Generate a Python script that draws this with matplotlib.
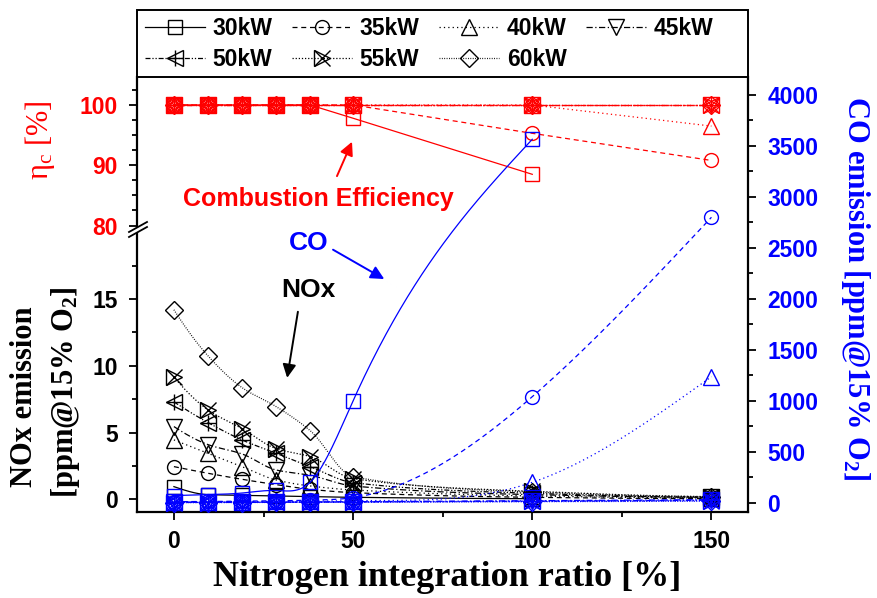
import numpy as np
import matplotlib
matplotlib.use("Agg")
import matplotlib.pyplot as plt
from matplotlib.lines import Line2D
from matplotlib.patches import Polygon, Rectangle
from matplotlib.ticker import MultipleLocator

SANS = "Liberation Sans"
SERIF = "Liberation Serif"
plt.rcParams["mathtext.fontset"] = "custom"
plt.rcParams["mathtext.rm"] = SERIF
plt.rcParams["mathtext.it"] = SERIF + ":italic"
plt.rcParams["mathtext.bf"] = SERIF + ":bold"

# ---------------- data ----------------
x_ratio = [0, 9.5, 19, 28.5, 38, 50, 100, 150]
powers = ["30kW", "35kW", "40kW", "45kW", "50kW", "55kW", "60kW"]

# combustion efficiency [%]
eff_30 = [100, 100, 100, 100, 100, 97.8, 88.5]
eff_35 = [100, 100, 100, 100, 100, 100, 95.3, 90.8]
eff_40 = [100, 100, 100, 100, 100, 100, 100, 96.5]
eff_45 = [100, 100, 100, 100, 100, 100, 100, 100]
eff_50 = [100, 100, 100, 100, 100, 100, 100, 100]
eff_55 = [100, 100, 100, 100, 100, 100, 100, 100]
eff_60 = [100, 100, 100, 100, 100, 100, 100, 100]

# NOx emission [ppm @15% O2]
nox_30 = [0.95, 0.35, 0.3, 0.25, 0.2, 0.15, 0.05]
nox_35 = [2.45, 1.95, 1.5, 1.1, 0.75, 0.5, 0.15, 0.05]
nox_40 = [4.45, 3.45, 2.45, 1.45, 1.0, 0.7, 0.25, 0.1]
nox_45 = [5.45, 4.1, 3.4, 2.2, 1.8, 1.0, 0.35, 0.15]
nox_50 = [7.3, 5.75, 4.45, 3.45, 2.45, 1.25, 0.45, 0.15]
nox_55 = [9.15, 6.7, 5.3, 3.8, 3.2, 1.55, 0.6, 0.2]
nox_60 = [14.2, 10.75, 8.37, 6.95, 5.15, 1.7, 0.55, 0.2]

# CO emission [ppm @15% O2]
co_30 = [70, 80, 95, 120, 200, 1000, 3565]
co_35 = [10, 12, 15, 18, 25, 50, 1040, 2800]
co_40 = [8, 10, 10, 12, 15, 20, 200, 1236]
co_45 = [5, 5, 5, 6, 8, 10, 20, 30]
co_50 = [3, 3, 4, 5, 6, 8, 15, 25]
co_55 = [2, 2, 3, 4, 5, 6, 12, 20]
co_60 = [1, 1, 2, 3, 4, 5, 10, 15]

eff = [eff_30, eff_35, eff_40, eff_45, eff_50, eff_55, eff_60]
nox = [nox_30, nox_35, nox_40, nox_45, nox_50, nox_55, nox_60]
co = [co_30, co_35, co_40, co_45, co_50, co_55, co_60]

# ---------------- styles ----------------
RED = "#FF0000"
BLUE = "#0000FF"

styles = [
    dict(ls="-", markers=[("s", 9.5)]),
    dict(ls=(0, (4, 3)), markers=[("o", 10)]),
    dict(ls=(0, (1, 2.5)), markers=[("^", 12)]),
    dict(ls=(0, (5, 2, 1, 2)), markers=[("v", 12)]),
    dict(ls=(0, (4, 1.5, 1, 1.5, 1, 1.5)), markers=[("<", 12), ("+", 12)]),
    dict(ls=(0, (1, 1.5)), markers=[(">", 12), ("x", 12)]),
    dict(ls=(0, (0.7, 1.2)), markers=[("D", 9)]),
]


def pchip(xk, yk, num=300):
    """Monotone piecewise cubic Hermite curve through the given points."""
    xk = np.asarray(xk, float)
    yk = np.asarray(yk, float)
    n = len(xk)
    h = np.diff(xk)
    d = np.diff(yk) / h
    m = np.zeros(n)
    for k in range(1, n - 1):
        if d[k - 1] * d[k] > 0:
            w1 = 2 * h[k] + h[k - 1]
            w2 = h[k] + 2 * h[k - 1]
            m[k] = (w1 + w2) / (w1 / d[k - 1] + w2 / d[k])

    def edge(h0, h1, d0, d1):
        mm = ((2 * h0 + h1) * d0 - h0 * d1) / (h0 + h1)
        if np.sign(mm) != np.sign(d0):
            mm = 0.0
        elif np.sign(d0) != np.sign(d1) and abs(mm) > abs(3 * d0):
            mm = 3 * d0
        return mm

    m[0] = edge(h[0], h[1], d[0], d[1])
    m[-1] = edge(h[-1], h[-2], d[-1], d[-2])
    xx = np.linspace(xk[0], xk[-1], num)
    idx = np.clip(np.searchsorted(xk, xx) - 1, 0, n - 2)
    t = (xx - xk[idx]) / h[idx]
    h00 = 2 * t**3 - 3 * t**2 + 1
    h10 = t**3 - 2 * t**2 + t
    h01 = -2 * t**3 + 3 * t**2
    h11 = t**3 - t**2
    yy = (h00 * yk[idx] + h10 * h[idx] * m[idx]
          + h01 * yk[idx + 1] + h11 * h[idx] * m[idx + 1])
    return xx, yy


def natural_spline(xk, yk, num=300):
    """Natural cubic spline through the given points."""
    xk = np.asarray(xk, float)
    yk = np.asarray(yk, float)
    n = len(xk)
    h = np.diff(xk)
    d = np.diff(yk) / h
    M = np.zeros(n)
    if n > 2:
        A = np.zeros((n - 2, n - 2))
        rhs = 6 * (d[1:] - d[:-1])
        for i in range(n - 2):
            A[i, i] = 2 * (h[i] + h[i + 1])
            if i > 0:
                A[i, i - 1] = h[i]
            if i < n - 3:
                A[i, i + 1] = h[i + 1]
        M[1:-1] = np.linalg.solve(A, rhs)
    xx = np.linspace(xk[0], xk[-1], num)
    i = np.clip(np.searchsorted(xk, xx) - 1, 0, n - 2)
    a = xk[i + 1] - xx
    b = xx - xk[i]
    hi = h[i]
    yy = (M[i] * a**3 / (6 * hi) + M[i + 1] * b**3 / (6 * hi)
          + (yk[i] / hi - M[i] * hi / 6) * a
          + (yk[i + 1] / hi - M[i + 1] * hi / 6) * b)
    return xx, yy


def draw_series(ax, ys, color, style, curve=None):
    xs = x_ratio[:len(ys)]
    if curve is None:
        xx, yy = xs, ys
    else:
        xx, yy = curve(xs, ys)
    ax.plot(xx, yy, color=color, lw=0.9, ls=style["ls"], zorder=2)
    for mk, ms in style["markers"]:
        ax.plot(xs, ys, ls="none", marker=mk, ms=ms, mfc="none",
                mec=color, mew=1.0, zorder=3, clip_on=False)


# ---------------- figure & axes ----------------
W, H = 878, 598
fig = plt.figure(figsize=(W / 100, H / 100), dpi=100)


def fx(px):
    return px / W


def fy(py):
    return 1 - py / H


L, R = 137, 748
T, BRK, B = 77, 231, 512
ax_bot = fig.add_axes([fx(L), fy(B), fx(R - L), fy(BRK) - fy(B)])
ax_top = fig.add_axes([fx(L), fy(BRK), fx(R - L), fy(T) - fy(BRK)])
ax_co = fig.add_axes([fx(L), fy(B), fx(R - L), fy(T) - fy(B)])
ax_co.patch.set_visible(False)

XLIM = (-10.3, 160.2)
for ax in (ax_bot, ax_top, ax_co):
    ax.set_xlim(*XLIM)

ax_bot.set_ylim(-0.95, 20.1)
ax_top.set_ylim(79.1, 104.64)
ax_co.set_ylim(-91, 4176)

SPW = 1.6
for ax in (ax_bot, ax_top, ax_co):
    for s in ax.spines.values():
        s.set_linewidth(SPW)

ax_bot.spines["top"].set_visible(False)
ax_bot.spines["right"].set_visible(False)
ax_top.spines["bottom"].set_visible(False)
ax_top.spines["right"].set_visible(False)
ax_top.spines["top"].set_visible(False)
for side in ("left", "top", "bottom"):
    ax_co.spines[side].set_visible(False)

# ticks
tick_kw = dict(direction="out", width=1.3, labelsize=16.5)
ax_bot.xaxis.set_major_locator(MultipleLocator(50))
ax_bot.xaxis.set_minor_locator(MultipleLocator(25))
ax_bot.yaxis.set_major_locator(MultipleLocator(5))
ax_bot.yaxis.set_minor_locator(MultipleLocator(2.5))
ax_bot.tick_params(which="major", length=6, pad=8, **tick_kw)
ax_bot.tick_params(which="minor", length=3.5, width=1.3, direction="out")
ax_bot.tick_params(axis="x", which="major", pad=7)
ax_bot.set_yticks([0, 5, 10, 15])

ax_top.set_xticks([])
ax_top.yaxis.set_major_locator(MultipleLocator(10))
ax_top.yaxis.set_minor_locator(MultipleLocator(2.5))
ax_top.tick_params(which="major", length=6, pad=8, labelcolor=RED, **tick_kw)
ax_top.tick_params(which="minor", length=3.5, width=1.3, direction="out")
ax_top.set_yticks([80, 90, 100])

ax_co.xaxis.set_visible(False)
ax_co.yaxis.tick_right()
ax_co.yaxis.set_label_position("right")
ax_co.yaxis.set_major_locator(MultipleLocator(500))
ax_co.yaxis.set_minor_locator(MultipleLocator(250))
ax_co.tick_params(which="major", length=6, pad=8, labelcolor=BLUE, **tick_kw)
ax_co.tick_params(which="minor", length=3.5, width=1.3, direction="out")
ax_co.set_yticks(np.arange(0, 4001, 500))

for ax in (ax_bot, ax_top, ax_co):
    for lab in ax.get_xticklabels() + ax.get_yticklabels():
        lab.set_fontfamily(SANS)
        lab.set_fontweight("bold")

# ---------------- data drawing ----------------
for ys, st in zip(nox, styles):
    draw_series(ax_bot, ys, "black", st, curve=pchip)
for ys, st in zip(eff, styles):
    draw_series(ax_top, ys, RED, st)
for k, (ys, st) in enumerate(zip(co, styles)):
    draw_series(ax_co, ys, BLUE, st,
                curve=natural_spline if k < 3 else pchip)

# ---------------- axis labels ----------------
fig.text(fx(447), fy(578), "Nitrogen integration ratio [%]", ha="center",
         va="center", fontsize=26, fontweight="bold", family=SERIF)
fig.text(fx(25), fy(397), "NOx emission", ha="center", va="center",
         rotation=90, fontsize=22, fontweight="bold", family=SERIF)
fig.text(fx(66), fy(392), r"[ppm@15% $\mathbf{O_2}$]", ha="center",
         va="center", rotation=90, fontsize=22, fontweight="bold",
         family=SERIF)
fig.text(fx(40), fy(140), r"η$_\mathrm{c}$ [%]", ha="center",
         va="center", rotation=90, fontsize=22, color=RED, family=SERIF)
fig.text(fx(856), fy(288), r"CO emission [ppm@15% $\mathbf{O_2}$]",
         ha="center", va="center", rotation=270, fontsize=22,
         fontweight="bold", color=BLUE, family=SERIF)

# ---------------- annotations ----------------
ax_top.text(40.2, 84.4, "Combustion Efficiency", color=RED, ha="center",
            va="center", fontsize=18, fontweight="bold", family=SANS)
ax_top.annotate("", xy=(49.7, 93.9), xytext=(45.5, 88.2),
                arrowprops=dict(arrowstyle="-|>", color=RED, lw=1.4,
                                mutation_scale=20, shrinkA=0, shrinkB=0))
ax_bot.text(37.7, 19.2, "CO", color=BLUE, ha="center", va="center",
            fontsize=19, fontweight="bold", family=SANS)
ax_bot.annotate("", xy=(58.7, 16.5), xytext=(44.4, 18.7),
                arrowprops=dict(arrowstyle="-|>", color=BLUE, lw=1.4,
                                mutation_scale=20, shrinkA=0, shrinkB=0))
ax_bot.text(37.4, 15.7, "NOx", color="black", ha="center", va="center",
            fontsize=19, fontweight="bold", family=SANS)
ax_bot.annotate("", xy=(31.6, 9.1), xytext=(34.6, 14.05),
                arrowprops=dict(arrowstyle="-|>", color="black", lw=1.4,
                                mutation_scale=20, shrinkA=0, shrinkB=0))

# ---------------- axis break on the left spine ----------------
gap = Polygon([[fx(129), fy(232)], [fx(147), fy(222)], [fx(147), fy(227)],
               [fx(129), fy(237)]], closed=True, transform=fig.transFigure,
              facecolor="white", edgecolor="none", zorder=10)
fig.add_artist(gap)
for dy in (0, 5):
    fig.add_artist(Line2D([fx(129), fx(147)], [fy(237 - dy), fy(227 - dy)],
                          transform=fig.transFigure, color="black", lw=1.3,
                          zorder=11))

# ---------------- legend ----------------
handles = []
for st in styles:
    parts = []
    for i, (mk, ms) in enumerate(st["markers"]):
        parts.append(Line2D([], [], color="black", lw=0.9,
                            ls=st["ls"] if i == 0 else "none", marker=mk,
                            ms=ms, mfc="none", mec="black", mew=1.0))
    handles.append(tuple(parts) if len(parts) > 1 else parts[0])

box = Rectangle((fx(L), fy(T)), fx(R - L), fy(10) - fy(T),
                transform=fig.transFigure, facecolor="white",
                edgecolor="black", lw=1.4, zorder=5)
fig.add_artist(box)

order = [0, 4, 1, 5, 2, 6, 3]
leg = fig.legend([handles[i] for i in order], [powers[i] for i in order],
                 loc="center left", bbox_to_anchor=(fx(145), fy(44)),
                 ncol=4, frameon=False, borderaxespad=0, borderpad=0,
                 handlelength=2.6, handletextpad=0.35, columnspacing=0.85,
                 labelspacing=0.38,
                 prop=dict(family=SANS, weight="bold", size=16.5))
leg.set_zorder(6)

fig.savefig("out.png", dpi=100)
